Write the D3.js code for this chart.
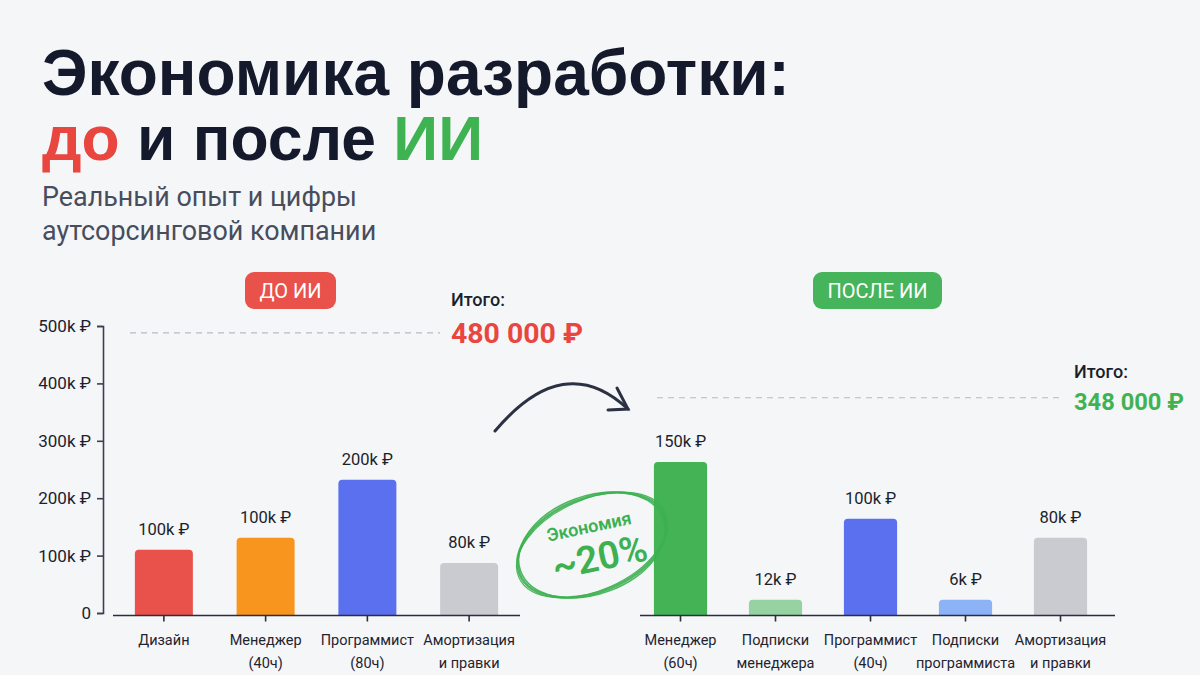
<!DOCTYPE html>
<html><head><meta charset="utf-8">
<script src="https://cdn.jsdelivr.net/npm/d3@7/dist/d3.min.js"></script>
<style>
html,body{margin:0;padding:0;background:#f5f6f8;}
svg{display:block;}
</style></head>
<body>
<svg id="chart" width="1200" height="675"></svg>
<script>
// ---------------- DATA ----------------
const beforeCategories = [["Дизайн"], ["Менеджер", "(40ч)"], ["Программист", "(80ч)"], ["Амортизация", "и правки"]];
const beforeBarValues = [110000, 131000, 232000, 87000];          // bar heights as drawn
const beforeValueLabels = ["100k ₽", "100k ₽", "200k ₽", "80k ₽"];
const beforeColors = ["#e9514b", "#f7951e", "#5b70ef", "#c9cbd1"];

const afterCategories = [["Менеджер", "(60ч)"], ["Подписки", "менеджера"], ["Программист", "(40ч)"], ["Подписки", "программиста"], ["Амортизация", "и правки"]];
const afterBarValues = [263000, 23000, 164000, 23000, 131000];
const afterValueLabels = ["150k ₽", "12k ₽", "100k ₽", "6k ₽", "80k ₽"];
const afterColors = ["#43b356", "#97d3a2", "#5b70ef", "#8db3f7", "#c9cbd1"];

const yTickValues = [0, 100000, 200000, 300000, 400000, 500000];
const yTickLabels = ["0", "100k ₽", "200k ₽", "300k ₽", "400k ₽", "500k ₽"];

const totalLabels = ["480 000 ₽", "348 000 ₽"];
const totalLineLevels = [488000, 375000];
const badgeLabels = ["ДО ИИ", "ПОСЛЕ ИИ"];

// ---------------- SETUP ----------------
const svg = d3.select("#chart");
const W = 1200, H = 675;
svg.append("rect").attr("width", W).attr("height", H).attr("fill", "#f5f6f8");

const FONT = "Roboto, 'Noto Sans', sans-serif";
const TITLE_FONT = "'Liberation Sans', Arial, sans-serif";
const dark = "#141a2b";
const red = "#e9463f";
const green = "#3fb352";

function fitWidth(sel, target) {
  const node = sel.node();
  const w = node.getComputedTextLength();
  const fs = parseFloat(sel.attr("font-size"));
  sel.attr("font-size", (fs * target / w).toFixed(2));
  return fs * target / w;
}

// ---------------- TITLE ----------------
const t1 = svg.append("text").attr("x", 42).attr("y", 95)
  .attr("font-family", TITLE_FONT).attr("font-weight", 700).attr("font-size", 66)
  .attr("fill", dark).text("Экономика разработки:");
const tfs = fitWidth(t1, 748);
const t2 = svg.append("text").attr("x", 42).attr("y", 160)
  .attr("font-family", TITLE_FONT).attr("font-weight", 700).attr("font-size", tfs)
  .attr("fill", dark);
t2.append("tspan").attr("fill", red).text("до");
t2.append("tspan").text(" и после ");
t2.append("tspan").attr("fill", green).text("ИИ");
fitWidth(t2, 441);

const s1 = svg.append("text").attr("x", 42).attr("y", 206)
  .attr("font-family", FONT).attr("font-size", 25).attr("fill", "#474d5c")
  .text("Реальный опыт и цифры");
const sfs = fitWidth(s1, 315);
svg.append("text").attr("x", 42).attr("y", 240)
  .attr("font-family", FONT).attr("font-size", sfs).attr("fill", "#474d5c")
  .text("аутсорсинговой компании");

// ---------------- SCALES ----------------
const y = d3.scaleLinear().domain([0, 500000]).range([613, 326]);
const baseY = 615.5;

const xB = d3.scaleBand().domain(d3.range(beforeCategories.length)).range([113, 520]).paddingInner(0.43).paddingOuter(0.215);
const xA = d3.scaleBand().domain(d3.range(afterCategories.length)).range([633, 1108]).paddingInner(0.44).paddingOuter(0.22);

function topRounded(x, yy, w, h, r) {
  r = Math.min(r, h);
  return `M${x},${yy + h}V${yy + r}Q${x},${yy} ${x + r},${yy}H${x + w - r}Q${x + w},${yy} ${x + w},${yy + r}V${yy + h}Z`;
}

// y axis
const yAxis = d3.axisLeft(y).tickValues(yTickValues)
  .tickFormat((d, i) => yTickLabels[i]).tickSize(6).tickSizeOuter(6).tickPadding(6);
const gy = svg.append("g").attr("transform", "translate(103,0)").call(yAxis);
gy.select(".domain").attr("stroke", "#3b4050").attr("stroke-width", 1.6);
gy.selectAll(".tick line").attr("stroke", "#3b4050").attr("stroke-width", 1.6);
gy.selectAll(".tick text").attr("font-family", FONT).attr("font-size", 17).attr("fill", "#1c2130");

function drawPanel(xs, cats, vals, labels, colors, lineX0, lineX1) {
  const g = svg.append("g");
  // bars
  g.selectAll("path.bar").data(vals).enter().append("path")
    .attr("class", "bar")
    .attr("d", (d, i) => topRounded(xs(i), y(d), xs.bandwidth(), baseY - y(d), 4))
    .attr("fill", (d, i) => colors[i]);
  // value labels
  g.selectAll("text.val").data(vals).enter().append("text")
    .attr("x", (d, i) => xs(i) + xs.bandwidth() / 2)
    .attr("y", d => y(d) - 15)
    .attr("text-anchor", "middle")
    .attr("font-family", FONT).attr("font-size", 16.5).attr("fill", "#1a1f2c")
    .text((d, i) => labels[i]);
  // x axis
  const xAxis = d3.axisBottom(xs).tickSize(6).tickSizeOuter(0).tickFormat("");
  const gx = g.append("g").attr("transform", `translate(0,${baseY})`).call(xAxis);
  gx.select(".domain").attr("d", `M${lineX0},0H${lineX1}`)
    .attr("stroke", "#2a2f3c").attr("stroke-width", 1.6);
  gx.selectAll(".tick line").attr("stroke", "#2a2f3c").attr("stroke-width", 1.6);
  // category labels
  cats.forEach((lines, i) => {
    const t = g.append("text")
      .attr("x", xs(i) + xs.bandwidth() / 2).attr("y", 645)
      .attr("text-anchor", "middle")
      .attr("font-family", FONT).attr("font-size", 14.5).attr("fill", "#1f2430");
    lines.forEach((ln, j) => {
      t.append("tspan").attr("x", xs(i) + xs.bandwidth() / 2).attr("dy", j === 0 ? 0 : 23).text(ln);
    });
  });
}
drawPanel(xB, beforeCategories, beforeBarValues, beforeValueLabels, beforeColors, 113, 520);
drawPanel(xA, afterCategories, afterBarValues, afterValueLabels, afterColors, 640, 1115);

// ---------------- BADGES ----------------
function badge(cx, text, fill, w) {
  const g = svg.append("g");
  g.append("rect").attr("x", cx - w / 2).attr("y", 272).attr("width", w).attr("height", 37)
    .attr("rx", 9).attr("fill", fill);
  g.append("text").attr("x", cx).attr("y", 298)
    .attr("text-anchor", "middle").attr("font-family", FONT).attr("font-size", 20)
    .attr("fill", "#ffffff").text(text);
}
badge(290.5, badgeLabels[0], "#e9514b", 91);
badge(877.5, badgeLabels[1], "#46b45a", 129);

// ---------------- TOTALS ----------------
function total(x0, x1, level, tx, labelY, valY, text, color, targetW) {
  svg.append("line").attr("x1", x0).attr("x2", x1).attr("y1", y(level)).attr("y2", y(level))
    .attr("stroke", "#b8bbc2").attr("stroke-width", 1.2).attr("stroke-dasharray", "6,5");
  svg.append("text").attr("x", tx).attr("y", labelY)
    .attr("font-family", FONT).attr("font-weight", 500).attr("font-size", 18).attr("fill", "#1a1f2c")
    .text("Итого:");
  const v = svg.append("text").attr("x", tx).attr("y", valY)
    .attr("font-family", FONT).attr("font-weight", 700).attr("font-size", 30).attr("fill", color)
    .text(text);
  fitWidth(v, targetW);
}
total(130, 440, totalLineLevels[0], 451, 306, 343, totalLabels[0], red, 132);
total(657, 1062, totalLineLevels[1], 1074, 378, 410, totalLabels[1], green, 110);

// ---------------- ARROW ----------------
const arrow = svg.append("g").attr("stroke", "#2b3142").attr("stroke-width", 3)
  .attr("fill", "none").attr("stroke-linecap", "round");
arrow.append("path").attr("d", "M495,431 Q564,349 628,409");
arrow.append("path").attr("d", "M617,388 L628,409 L608,410");

// ---------------- SAVINGS STAMP ----------------
const stamp = svg.append("g").attr("transform", "translate(592,545) rotate(-22)");
const ellipses = [
  { rx: 78, ry: 47, w: 2.6, rot: 0 },
  { rx: 76, ry: 49, w: 1.6, rot: 2 },
  { rx: 80, ry: 45.5, w: 1.2, rot: -2 }
];
ellipses.forEach(e => {
  stamp.append("ellipse").attr("rx", e.rx).attr("ry", e.ry)
    .attr("transform", `rotate(${e.rot})`)
    .attr("fill", "none").attr("stroke", "#3db050").attr("stroke-width", e.w).attr("opacity", 0.9);
});
const stampText = svg.append("g").attr("transform", "translate(595,545) rotate(-12)");
stampText.append("text").attr("x", -2).attr("y", -13).attr("text-anchor", "middle")
  .attr("font-family", FONT).attr("font-weight", 600).attr("font-size", 18).attr("fill", "#3db050")
  .text("Экономия");
stampText.append("text").attr("x", 2).attr("y", 26).attr("text-anchor", "middle")
  .attr("font-family", FONT).attr("font-weight", 600).attr("font-size", 38).attr("fill", "#3db050")
  .text("~20%");
</script>
</body></html>
